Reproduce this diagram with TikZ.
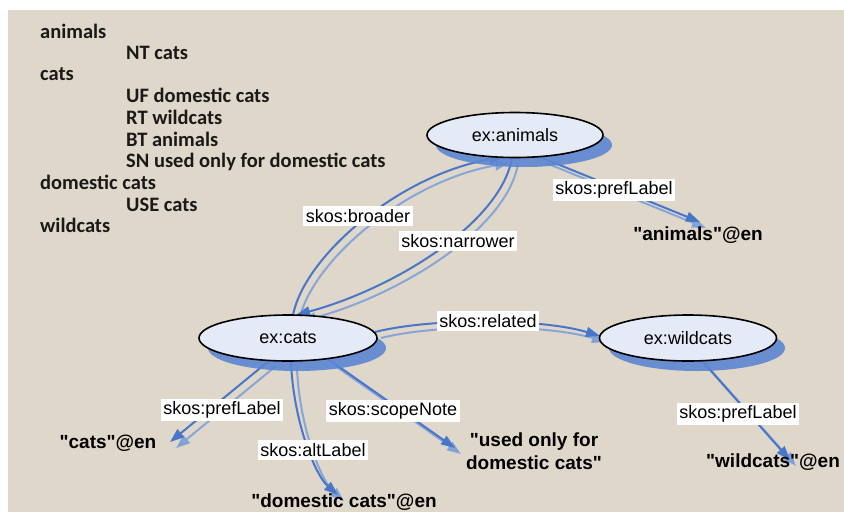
\documentclass[tikz,border=0pt]{standalone}
\usepackage{fontspec}
\setmainfont{Liberation Sans}[Ligatures=TeXOff]
\newfontfamily\calfont{Carlito}[Ligatures=TeXOff]
\usetikzlibrary{arrows.meta,shapes.geometric}
\definecolor{bgbeige}{RGB}{223,215,201}
\definecolor{mainblue}{RGB}{72,118,200}
\definecolor{shblue}{RGB}{120,158,218}
\definecolor{ellfill}{RGB}{228,235,246}
\definecolor{ellshadow}{RGB}{92,134,210}
\pgfdeclarelayer{bg}\pgfdeclarelayer{edges}
\pgfsetlayers{bg,edges,main}
\newcommand{\relpath}[1]{\draw[relsh] #1; \draw[rel] #1;}
\tikzset{
  ell/.style={ellipse, draw=black, line width=1.6pt, fill=ellfill, minimum width=176pt, minimum height=45pt, inner sep=0pt, font=\fontsize{18}{21}\selectfont},
  eshadow/.style={fill=ellshadow, opacity=0.9},
  rel/.style={draw=mainblue, line width=2pt, -{Triangle[length=14pt,width=10pt]}},
  relsh/.style={draw=shblue, line width=2pt, opacity=0.85, -{Triangle[length=14pt,width=10pt]}, transform canvas={xshift=6pt,yshift=-6pt}},
  lbl/.style={fill=white, inner xsep=2.5pt, inner ysep=3pt, font=\fontsize{18}{21}\selectfont},
  lit/.style={font=\bfseries\fontsize{19}{23}\selectfont, inner sep=0pt, align=center},
  thes/.style={font=\calfont\bfseries\fontsize{20.5}{24}\selectfont, anchor=base west, inner sep=0pt, text=black!90},
}
\begin{document}
\begin{tikzpicture}[x=1pt,y=-1pt]
\useasboundingbox (0,0) rectangle (844,512);
\begin{pgfonlayer}{bg}
\fill[bgbeige] (8,10) rectangle (844,512);
\end{pgfonlayer}
% thesaurus text
\node[thes] (t1) at (40,38) {animals};
\node[thes] (t2) at (126,59) {NT cats};
\node[thes] (t3) at (40,80) {cats};
\node[thes] (t4) at (126,102) {UF domestic cats};
\node[thes] (t5) at (126,124) {RT wildcats};
\node[thes] (t6) at (126,146) {BT animals};
\node[thes] (t7) at (126,167) {SN used only for domestic cats};
\node[thes] (t8) at (40,189) {domestic cats};
\node[thes] (t9) at (126,211) {USE cats};
\node[thes] (t10) at (40,232) {wildcats};
% shadows of ellipses
\fill[eshadow] (524,145) ellipse [x radius=88pt, y radius=22pt];
\fill[eshadow] (297,348) ellipse [x radius=89pt, y radius=23pt];
\fill[eshadow] (697,348) ellipse [x radius=88pt, y radius=23pt];
% resource nodes
\node[ell] (A) at (515,135) {ex:animals};
\node[ell, minimum width=178pt, minimum height=46pt] (C) at (288,338) {ex:cats};
\node[ell, minimum width=177pt, minimum height=46pt] (W) at (688,338) {ex:wildcats};
% literal nodes
\node[lit, anchor=base] (LA) at (698,240) {"animals"@en};
\node[lit, anchor=base] (LC) at (108,448) {"cats"@en};
\node[lit, anchor=base] (LD) at (344,507) {"domestic cats"@en};
\node[lit] (LS) at (534,451) {"used only for\\domestic cats"};
\node[lit, anchor=base west] (LW) at (706,467) {"wildcats"@en};
% edges
\begin{pgfonlayer}{edges}
\relpath{([shift={(5,-23)}]C.center) .. controls (305,255) and (400,175) .. ([shift={(-12,22)}]A.center)}
\relpath{([shift={(-3,23)}]A.center) .. controls (500,225) and (390,290) .. ([shift={(8,-23)}]C.center)}
\relpath{([shift={(25,22)}]A.center) -- ([shift={(2,-18)}]LA.base)}
\relpath{([shift={(87,-6)}]C.center) .. controls (430,318) and (540,318) .. ([shift={(-88,-2)}]W.center)}
\relpath{([shift={(-18,22)}]C.center) -- ([shift={(62,-6)}]LC.base)}
\relpath{([shift={(3,23)}]C.center) .. controls (293,420) and (315,475) .. ([shift={(-6,-12)}]LD.base)}
\relpath{([shift={(40,21)}]C.center) -- ([shift={(-79,-3)}]LS.center)}
\relpath{([shift={(15,24)}]W.center) -- ([shift={(84,-7)}]LW.base west)}
\end{pgfonlayer}
% edge labels
\node[lbl] (e1) at (358,216) {skos:broader};
\node[lbl] (e2) at (458,241) {skos:narrower};
\node[lbl] (e3) at (614,190) {skos:prefLabel};
\node[lbl] (e4) at (488,321) {skos:related};
\node[lbl] (e5) at (222,410) {skos:prefLabel};
\node[lbl] (e6) at (313,450) {skos:altLabel};
\node[lbl] (e7) at (393,411) {skos:scopeNote};
\node[lbl] (e8) at (738,414) {skos:prefLabel};
\end{tikzpicture}
\end{document}
